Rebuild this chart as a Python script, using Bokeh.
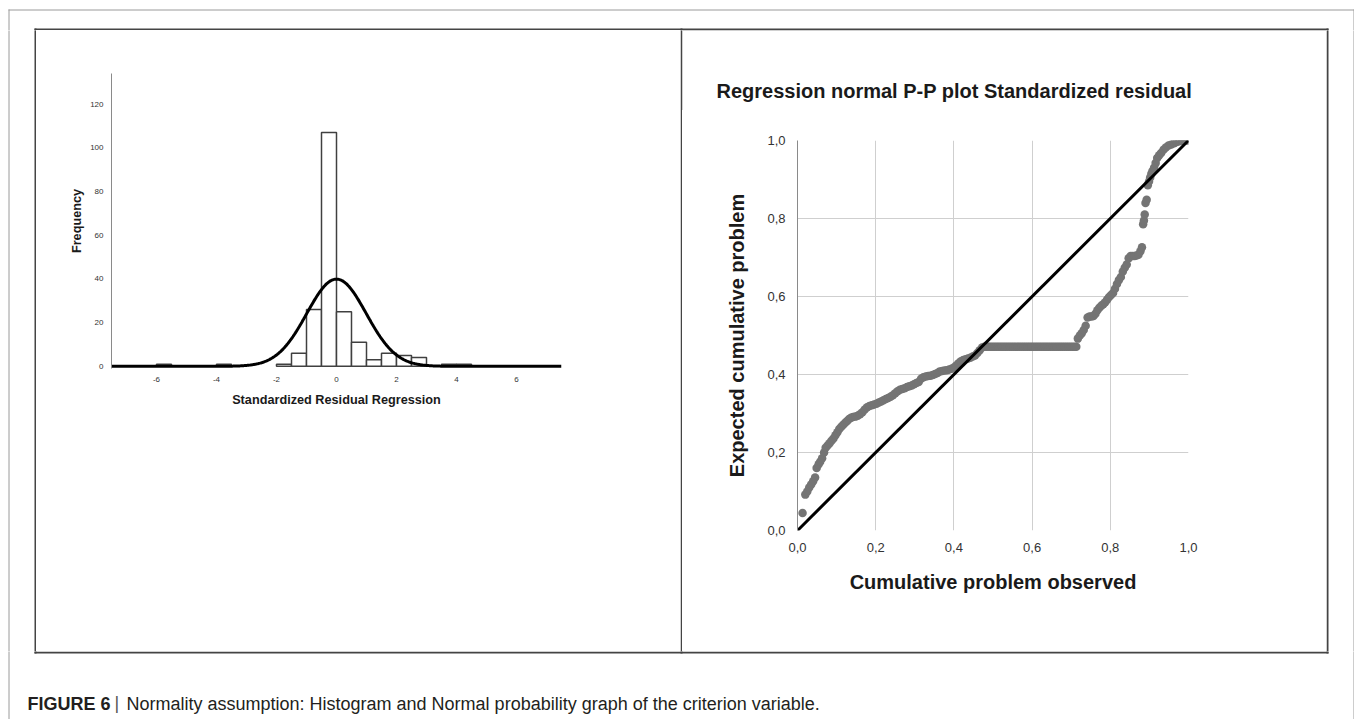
import numpy as np
from bokeh.plotting import figure
from bokeh.layouts import row, column
from bokeh.models import Range1d, FixedTicker
from bokeh.core.properties import value
from bokeh.embed import file_html
from bokeh.resources import INLINE

# ---------------- data: histogram of standardized residuals ----------------
bin_left = [-6.0, -4.0, -2.0, -1.5, -1.0, -0.5, 0.0, 0.5, 1.0, 1.5, 2.0, 2.5, 3.5, 4.0]
bin_right = [-5.5, -3.5, -1.5, -1.0, -0.5, 0.0, 0.5, 1.0, 1.5, 2.0, 2.5, 3.0, 4.0, 4.5]
frequency = [1, 1, 1, 6, 26, 107, 25, 11, 3, 6, 5, 4, 1, 1]
curve_mean = 0.0
curve_sd = 0.99
bin_width = 0.5
hist_x_ticks = [-6, -4, -2, 0, 2, 4, 6]
hist_x_labels = ["-6", "-4", "-2", "0", "2", "4", "6"]
hist_y_ticks = [0, 20, 40, 60, 80, 100, 120]

# ---------------- data: normal P-P plot ----------------
pp_observed = [
    0.013, 0.020, 0.025, 0.030, 0.035, 0.040, 0.045, 0.049, 0.054, 0.058,
    0.063, 0.068, 0.072, 0.077, 0.082, 0.087, 0.092, 0.097, 0.102, 0.107,
    0.112, 0.117, 0.122, 0.127, 0.132, 0.137, 0.142, 0.148, 0.154, 0.160,
    0.166, 0.172, 0.178, 0.184, 0.190, 0.196, 0.202, 0.208, 0.214, 0.220,
    0.226, 0.232, 0.238, 0.244, 0.250, 0.256, 0.262, 0.268, 0.274, 0.280,
    0.286, 0.292, 0.298, 0.304, 0.310, 0.316, 0.322, 0.328, 0.334, 0.340,
    0.346, 0.352, 0.358, 0.364, 0.370, 0.376, 0.382, 0.388, 0.394, 0.400,
    0.406, 0.412, 0.418, 0.424, 0.430, 0.436, 0.442, 0.448, 0.454, 0.460,
    0.466, 0.472,
    0.478, 0.483, 0.488, 0.493, 0.498, 0.503, 0.508, 0.513, 0.518, 0.523,
    0.528, 0.533, 0.538, 0.543, 0.548, 0.553, 0.558, 0.563, 0.568, 0.573,
    0.578, 0.583, 0.588, 0.593, 0.598, 0.603, 0.608, 0.613, 0.618, 0.623,
    0.628, 0.633, 0.638, 0.643, 0.648, 0.653, 0.658, 0.663, 0.668, 0.673,
    0.678, 0.683, 0.688, 0.693, 0.698, 0.703, 0.708, 0.713,
    0.717, 0.722, 0.727, 0.732, 0.737, 0.742, 0.747, 0.752, 0.757, 0.762,
    0.767, 0.772, 0.777, 0.782, 0.787, 0.792, 0.797, 0.802, 0.807, 0.812,
    0.817, 0.822, 0.827, 0.832, 0.837, 0.842, 0.847, 0.852, 0.857, 0.862,
    0.867, 0.872, 0.877, 0.881, 0.884, 0.886, 0.888, 0.890, 0.893, 0.896,
    0.899, 0.902, 0.905, 0.908, 0.912, 0.916, 0.920, 0.925, 0.930, 0.936,
    0.942, 0.949, 0.956, 0.963, 0.970, 0.977, 0.984, 0.991, 0.998,
]
pp_expected = [
    0.045, 0.092, 0.100, 0.110, 0.118, 0.126, 0.136, 0.160, 0.170, 0.176,
    0.185, 0.200, 0.212, 0.218, 0.224, 0.230, 0.236, 0.244, 0.252, 0.260,
    0.266, 0.271, 0.276, 0.281, 0.286, 0.289, 0.291, 0.292, 0.294, 0.298,
    0.303, 0.310, 0.316, 0.319, 0.321, 0.323, 0.325, 0.328, 0.331, 0.334,
    0.337, 0.340, 0.343, 0.347, 0.352, 0.357, 0.361, 0.363, 0.365, 0.368,
    0.370, 0.372, 0.375, 0.378, 0.381, 0.389, 0.393, 0.395, 0.396, 0.397,
    0.399, 0.401, 0.404, 0.408, 0.409, 0.410, 0.411, 0.413, 0.415, 0.418,
    0.423, 0.429, 0.434, 0.437, 0.439, 0.441, 0.443, 0.446, 0.449, 0.455,
    0.462, 0.469,
    0.471, 0.471, 0.471, 0.471, 0.471, 0.471, 0.471, 0.471, 0.471, 0.471,
    0.471, 0.471, 0.471, 0.471, 0.471, 0.471, 0.471, 0.471, 0.471, 0.471,
    0.471, 0.471, 0.471, 0.471, 0.471, 0.471, 0.471, 0.471, 0.471, 0.471,
    0.471, 0.471, 0.471, 0.471, 0.471, 0.471, 0.471, 0.471, 0.471, 0.471,
    0.471, 0.471, 0.471, 0.471, 0.471, 0.471, 0.471, 0.471,
    0.492, 0.500, 0.506, 0.514, 0.525, 0.546, 0.549, 0.549, 0.550, 0.556,
    0.565, 0.571, 0.576, 0.580, 0.585, 0.592, 0.599, 0.604, 0.609, 0.620,
    0.632, 0.642, 0.650, 0.664, 0.674, 0.682, 0.698, 0.704, 0.704, 0.704,
    0.705, 0.707, 0.716, 0.726, 0.785, 0.795, 0.810, 0.840, 0.848, 0.885,
    0.895, 0.905, 0.915, 0.922, 0.930, 0.942, 0.955, 0.962, 0.968, 0.976,
    0.982, 0.987, 0.990, 0.993, 0.996, 0.998, 0.999, 1.000, 1.000,
]
diag_x = [0.0, 1.0]
diag_y = [0.0, 1.0]
pp_ticks = [0.0, 0.2, 0.4, 0.6, 0.8, 1.0]
pp_tick_labels = ["0,0", "0,2", "0,4", "0,6", "0,8", "1,0"]

hist_title_x = "Standardized Residual Regression"
hist_title_y = "Frequency"
pp_title = "Regression normal P-P plot Standardized residual"
pp_title_x = "Cumulative problem observed"
pp_title_y = "Expected cumulative problem"
caption_parts = ["FIGURE 6", "|", "Normality assumption: Histogram and Normal probability graph of the criterion variable."]

FONT = "Liberation Sans"

# ---------------- decoration pieces (page pixel coordinates) ----------------
OUTER = dict(x0=[8, 8.5, 1353.5], y0=[9.5, 9, 9], x1=[1354, 8.5, 1353.5], y1=[9.5, 720, 720])
BOX = dict(x0=[34, 34, 35, 1327, 681], y0=[29, 652, 28, 28, 28],
           x1=[1328, 1328, 35, 1327, 681], y1=[29, 652, 653, 653, 653])


def deco(x0, x1, y0, y1):
    p = figure(width=x1 - x0, height=y1 - y0, x_range=Range1d(x0, x1), y_range=Range1d(y1, y0),
               output_backend="svg", toolbar_location=None, x_axis_type=None, y_axis_type=None,
               min_border_left=0, min_border_right=0, min_border_top=0, min_border_bottom=0)
    p.outline_line_color = None
    p.background_fill_color = "white"
    p.border_fill_color = "white"
    p.segment(x0=OUTER["x0"], y0=OUTER["y0"], x1=OUTER["x1"], y1=OUTER["y1"],
              line_color="#9a9a9a", line_width=1)
    p.segment(x0=BOX["x0"], y0=BOX["y0"], x1=BOX["x1"], y1=BOX["y1"],
              line_color="#444444", line_width=2)
    return p


top = deco(0, 1354, 0, 30)
left_strip = deco(0, 36, 30, 651)
divider = deco(680, 682, 30, 651)
right_strip = deco(1326, 1354, 30, 651)
bottom = deco(0, 1354, 651, 719)
bottom.text(x=[27], y=[703], text=[caption_parts[0]], text_font=value(FONT), text_font_size="18px",
            text_font_style="bold", text_baseline="middle", text_align="left", text_color="#231f20")
bottom.text(x=[114], y=[702], text=[caption_parts[1]], text_font=value(FONT), text_font_size="18px",
            text_baseline="middle", text_align="left", text_color="#555555")
bottom.text(x=[126], y=[703], text=[caption_parts[2]], text_font=value(FONT), text_font_size="18px",
            text_baseline="middle", text_align="left", text_color="#231f20")

title_piece = deco(682, 1326, 30, 110)
title_piece.text(x=[716], y=[90], text=[pp_title], text_font=value(FONT), text_font_size="20px",
                 text_font_style="bold", text_baseline="middle", text_align="left", text_color="#1a1a1a")

# ---------------- histogram ----------------
hist = figure(width=644, height=621, x_range=Range1d(-7.5, 7.5), y_range=Range1d(-1, 134),
              output_backend="svg", toolbar_location=None,
              min_border_left=75, min_border_right=119, min_border_top=43, min_border_bottom=283)
hist.outline_line_color = None
hist.grid.visible = False
hist.quad(left=bin_left, right=bin_right, bottom=0, top=frequency,
          fill_color="white", line_color="#404040", line_width=1.5)
n_total = sum(frequency)
cx = np.linspace(-7.5, 7.5, 601)
cy = n_total * bin_width * np.exp(-0.5 * ((cx - curve_mean) / curve_sd) ** 2) / (curve_sd * np.sqrt(2 * np.pi))
hist.line(cx, cy, line_color="black", line_width=3)

hist.xaxis.ticker = FixedTicker(ticks=hist_x_ticks)
hist.xaxis.major_label_overrides = dict(zip(hist_x_ticks, hist_x_labels))
hist.yaxis.ticker = FixedTicker(ticks=hist_y_ticks)
for ax in (hist.xaxis[0], hist.yaxis[0]):
    ax.major_tick_line_color = None
    ax.minor_tick_line_color = None
    ax.major_label_text_font = FONT
    ax.major_label_text_font_size = "8px"
    ax.major_label_text_color = "#333333"
    ax.axis_label_text_font = FONT
    ax.axis_label_text_font_size = "12.7px"
    ax.axis_label_text_font_style = "bold"
    ax.axis_label_text_color = "#1a1a1a"
hist.xaxis.axis_line_color = None
hist.yaxis.axis_line_color = "#8a8a8a"
hist.xaxis.major_label_standoff = 2
hist.yaxis.major_label_standoff = 2
hist.xaxis.axis_label = hist_title_x
hist.yaxis.axis_label = hist_title_y
hist.xaxis.axis_label_standoff = 8
hist.yaxis.axis_label_standoff = 3

# ---------------- P-P plot ----------------
pp = figure(width=644, height=541, x_range=Range1d(0, 1), y_range=Range1d(0, 1),
            output_backend="svg", toolbar_location=None,
            min_border_left=115, min_border_right=138, min_border_top=30, min_border_bottom=121)
pp.outline_line_color = None
pp.xgrid.ticker = FixedTicker(ticks=pp_ticks)
pp.ygrid.ticker = FixedTicker(ticks=pp_ticks)
pp.grid.grid_line_color = "#cfcfcf"
pp.grid.grid_line_width = 1
pp.scatter(pp_observed, pp_expected, size=8.5, fill_color="#747474", line_color=None)
pp.line(diag_x, diag_y, line_color="black", line_width=3)
for ax in (pp.xaxis[0], pp.yaxis[0]):
    ax.ticker = FixedTicker(ticks=pp_ticks)
    ax.major_label_overrides = dict(zip(pp_ticks, pp_tick_labels))
    ax.major_tick_line_color = None
    ax.minor_tick_line_color = None
    ax.major_label_text_font = FONT
    ax.major_label_text_font_size = "13px"
    ax.major_label_text_color = "#333333"
    ax.axis_label_text_font = FONT
    ax.axis_label_text_font_size = "20px"
    ax.axis_label_text_font_style = "bold"
    ax.axis_label_text_color = "#1a1a1a"
pp.xaxis.axis_line_color = None
pp.yaxis.axis_line_color = "#8a8a8a"
pp.xaxis.major_label_standoff = 6
pp.yaxis.major_label_standoff = 6
pp.xaxis.axis_label = pp_title_x
pp.yaxis.axis_label = pp_title_y
pp.xaxis.axis_label_standoff = 16
pp.yaxis.axis_label_standoff = 16

layout = column(
    column(top),
    row(column(left_strip), column(hist), column(divider),
        column(column(title_piece), column(pp)), column(right_strip)),
    column(bottom),
)

open("out.html", "w").write(file_html(layout, INLINE))
